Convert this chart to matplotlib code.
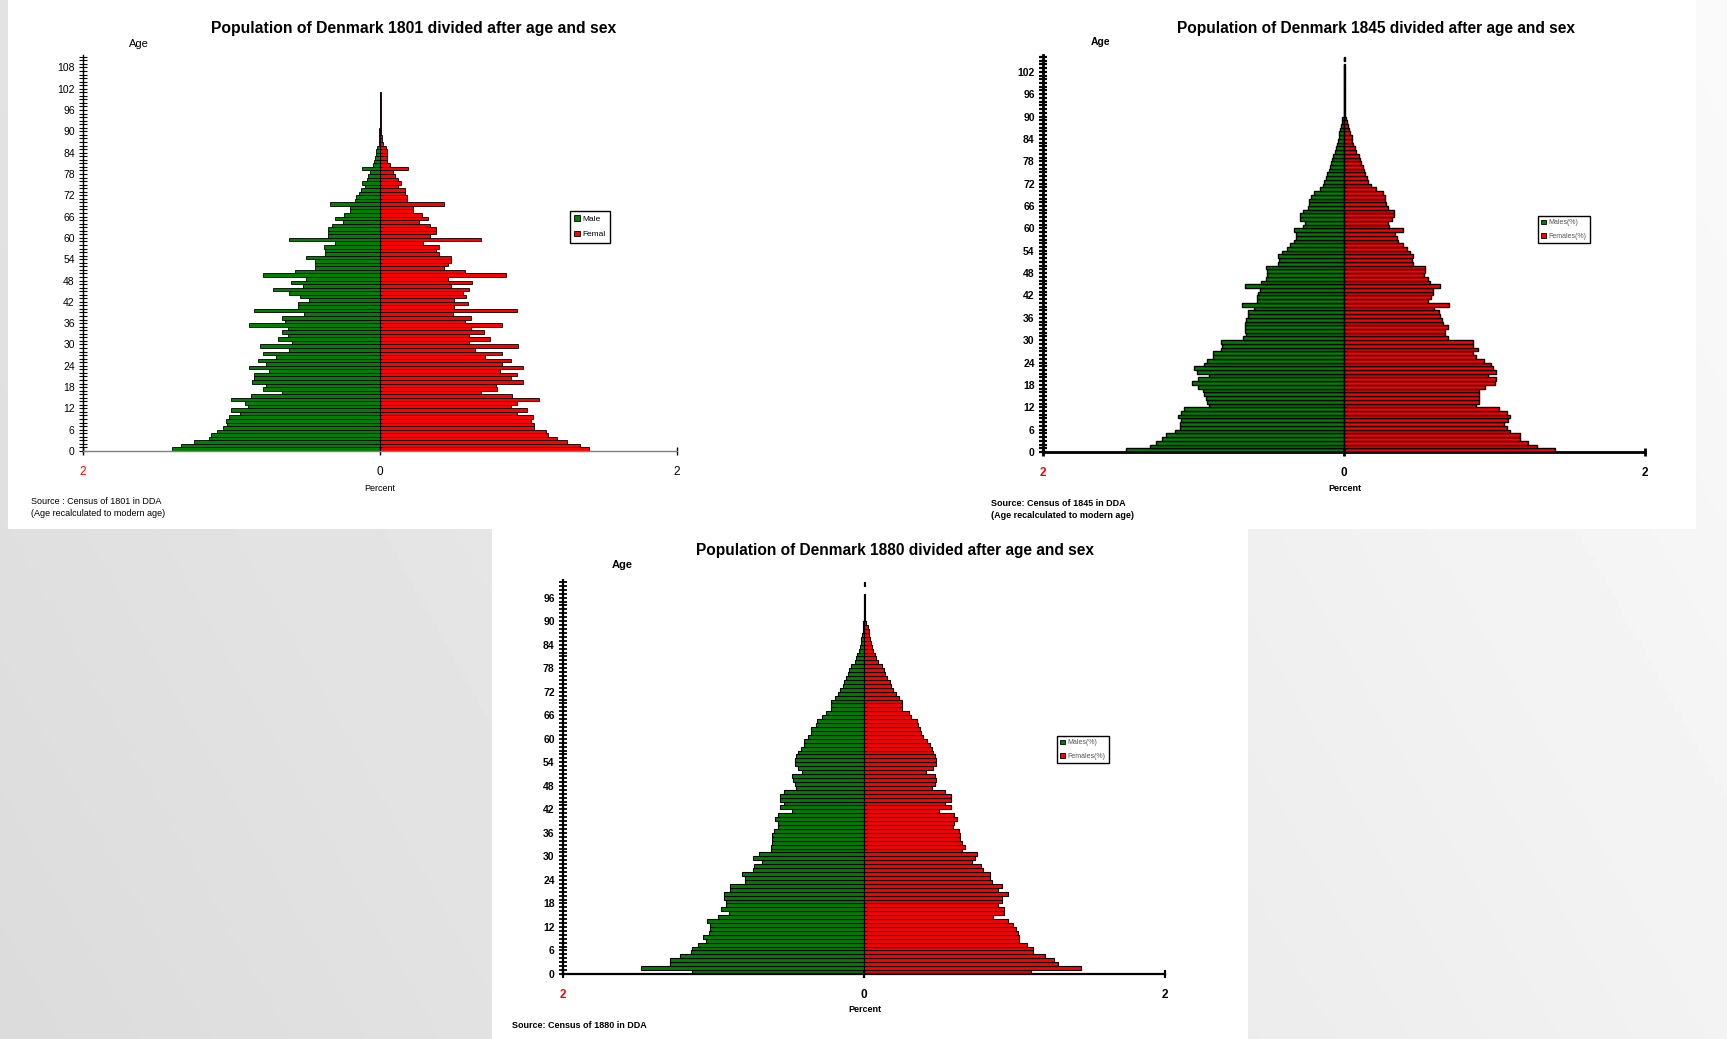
"""Population pyramids of Denmark 1801, 1845 and 1880 (slide recreation)."""

import numpy as np
import matplotlib
matplotlib.use("Agg")
import matplotlib.pyplot as plt
from matplotlib.patches import Rectangle, Patch

W, H = 1727, 1039

# ---- data: percent of population by single year of age (index = age) ----
male_1801 = [
    1.40, 1.34, 1.25, 1.15, 1.14, 1.10, 1.06, 1.03, 1.04, 1.02,
    0.94, 1.00, 0.89, 0.91, 1.00, 0.87, 0.66, 0.79, 0.77, 0.86,
    0.85, 0.85, 0.75, 0.88, 0.77, 0.82, 0.70, 0.79, 0.61, 0.81,
    0.59, 0.69, 0.62, 0.66, 0.62, 0.88, 0.64, 0.66, 0.51, 0.85,
    0.55, 0.55, 0.48, 0.54, 0.61, 0.72, 0.52, 0.60, 0.50, 0.79,
    0.57, 0.44, 0.44, 0.44, 0.50, 0.37, 0.37, 0.38, 0.30, 0.61,
    0.35, 0.35, 0.35, 0.32, 0.25, 0.30, 0.24, 0.20, 0.20, 0.34,
    0.17, 0.16, 0.14, 0.13, 0.10, 0.12, 0.09, 0.08, 0.07, 0.12,
    0.045, 0.04, 0.035, 0.03, 0.027, 0.022, 0.01, 0.006, 0.005, 0.004,
    0.004, 0.003, 0.003, 0.003, 0.003, 0.003, 0.003, 0.003, 0.003, 0.003,
    0.003,
]
female_1801 = [
    1.41, 1.35, 1.26, 1.19, 1.13, 1.12, 1.04, 1.04, 1.02, 1.03,
    0.92, 0.99, 0.88, 0.92, 1.07, 0.89, 0.68, 0.79, 0.78, 0.96,
    0.88, 0.92, 0.81, 0.96, 0.82, 0.88, 0.71, 0.82, 0.64, 0.93,
    0.60, 0.74, 0.60, 0.70, 0.61, 0.82, 0.57, 0.61, 0.49, 0.92,
    0.50, 0.59, 0.50, 0.58, 0.56, 0.60, 0.48, 0.62, 0.46, 0.85,
    0.57, 0.43, 0.46, 0.48, 0.48, 0.40, 0.38, 0.40, 0.29, 0.68,
    0.34, 0.38, 0.38, 0.34, 0.26, 0.32, 0.28, 0.22, 0.22, 0.43,
    0.18, 0.18, 0.17, 0.17, 0.12, 0.14, 0.12, 0.10, 0.09, 0.19,
    0.067, 0.05, 0.045, 0.045, 0.05, 0.04, 0.018, 0.013, 0.012, 0.01,
    0.01, 0.004, 0.004, 0.004, 0.004, 0.004, 0.004, 0.004, 0.004, 0.004,
    0.004,
]

male_1845 = [
    1.45, 1.29, 1.25, 1.21, 1.18, 1.12, 1.09, 1.09, 1.08, 1.10,
    1.08, 1.06, 0.90, 0.91, 0.92, 0.93, 0.94, 0.97, 1.01, 0.97,
    0.90, 0.98, 1.00, 0.93, 0.91, 0.87, 0.87, 0.82, 0.81, 0.82,
    0.67, 0.65, 0.66, 0.66, 0.66, 0.65, 0.64, 0.64, 0.60, 0.68,
    0.58, 0.58, 0.57, 0.56, 0.66, 0.55, 0.52, 0.51, 0.51, 0.52,
    0.44, 0.43, 0.44, 0.41, 0.38, 0.36, 0.33, 0.32, 0.32, 0.33,
    0.27, 0.26, 0.29, 0.29, 0.27, 0.24, 0.23, 0.23, 0.22, 0.20,
    0.16, 0.14, 0.13, 0.12, 0.11, 0.10, 0.095, 0.085, 0.08, 0.07,
    0.06, 0.05, 0.045, 0.04, 0.035, 0.03, 0.025, 0.02, 0.015, 0.01,
    0.003, 0.003, 0.003, 0.003, 0.003, 0.003, 0.003, 0.003, 0.003, 0.003,
    0.003, 0.003, 0.003, 0.003, 0.0, 0.003,
]
female_1845 = [
    1.40, 1.28, 1.22, 1.17, 1.17, 1.10, 1.08, 1.06, 1.09, 1.10,
    1.08, 1.03, 0.88, 0.90, 0.90, 0.90, 0.90, 0.94, 1.00, 1.01,
    0.96, 1.01, 0.99, 0.98, 0.93, 0.88, 0.86, 0.89, 0.86, 0.86,
    0.69, 0.67, 0.67, 0.69, 0.66, 0.65, 0.64, 0.63, 0.60, 0.70,
    0.56, 0.58, 0.59, 0.59, 0.64, 0.57, 0.56, 0.53, 0.54, 0.54,
    0.46, 0.45, 0.46, 0.44, 0.42, 0.39, 0.36, 0.35, 0.34, 0.39,
    0.30, 0.29, 0.32, 0.33, 0.33, 0.29, 0.28, 0.27, 0.27, 0.26,
    0.21, 0.18, 0.16, 0.155, 0.14, 0.135, 0.125, 0.11, 0.105, 0.10,
    0.08, 0.07, 0.06, 0.055, 0.05, 0.04, 0.033, 0.025, 0.018, 0.012,
    0.005, 0.005, 0.005, 0.005, 0.005, 0.005, 0.005, 0.005, 0.005, 0.005,
    0.005, 0.005, 0.005, 0.005, 0.0, 0.005,
]

male_1880 = [
    1.14, 1.48, 1.29, 1.29, 1.22, 1.15, 1.14, 1.10, 1.05, 1.07,
    1.03, 1.02, 1.02, 1.04, 0.97, 0.90, 0.95, 0.92, 0.92, 0.93,
    0.93, 0.89, 0.89, 0.79, 0.79, 0.81, 0.74, 0.73, 0.68, 0.74,
    0.70, 0.62, 0.62, 0.61, 0.61, 0.61, 0.60, 0.57, 0.57, 0.59,
    0.57, 0.48, 0.56, 0.53, 0.56, 0.56, 0.53, 0.45, 0.46, 0.47,
    0.48, 0.41, 0.44, 0.46, 0.46, 0.45, 0.44, 0.42, 0.40, 0.40,
    0.37, 0.35, 0.35, 0.32, 0.31, 0.28, 0.25, 0.22, 0.22, 0.22,
    0.19, 0.17, 0.16, 0.14, 0.13, 0.12, 0.107, 0.10, 0.085, 0.062,
    0.05, 0.044, 0.033, 0.027, 0.022, 0.017, 0.013, 0.009, 0.007, 0.004,
    0.002, 0.002, 0.002, 0.002, 0.002, 0.002, 0.002, 0.0, 0.0, 0.002,
]
female_1880 = [
    1.11, 1.44, 1.29, 1.26, 1.20, 1.12, 1.12, 1.08, 1.03, 1.03,
    1.02, 1.01, 0.99, 0.96, 0.86, 0.93, 0.93, 0.89, 0.92, 0.92,
    0.96, 0.89, 0.92, 0.85, 0.84, 0.84, 0.79, 0.78, 0.72, 0.74,
    0.75, 0.65, 0.67, 0.65, 0.64, 0.64, 0.63, 0.59, 0.60, 0.62,
    0.60, 0.50, 0.58, 0.54, 0.58, 0.58, 0.54, 0.45, 0.47, 0.48,
    0.47, 0.41, 0.46, 0.48, 0.48, 0.47, 0.46, 0.45, 0.44, 0.42,
    0.39, 0.38, 0.37, 0.36, 0.35, 0.31, 0.30, 0.25, 0.25, 0.25,
    0.23, 0.21, 0.19, 0.18, 0.17, 0.155, 0.14, 0.13, 0.12, 0.09,
    0.08, 0.07, 0.06, 0.05, 0.045, 0.04, 0.035, 0.03, 0.025, 0.015,
    0.004, 0.004, 0.004, 0.004, 0.004, 0.004, 0.004, 0.0, 0.0, 0.004,
]

GREEN = "#008000"
RED = "#ff0000"
NARROW = ["Liberation Sans Narrow", "Liberation Sans", "DejaVu Sans"]
ARIAL = ["Liberation Sans", "DejaVu Sans"]


def fx(x):
    return x / W


def fy(y):
    return 1 - y / H


def draw_pyramid(fig, left, right, base, top_px, age_top, males, females,
                 label_top, font, weight, edge_lw, spine_lw, xspine_color):
    """Draw one pyramid; geometry given in pixel coordinates of the figure."""
    ax = fig.add_axes([fx(left), fy(base), (right - left) / W, (base - top_px) / H])
    ax.patch.set_alpha(0)
    males = np.array(males)
    females = np.array(females)
    ages = np.arange(len(males))
    m_ok = males > 0
    f_ok = females > 0
    ax.barh(ages[m_ok], -males[m_ok], height=1.0, align="edge", color=GREEN,
            edgecolor="black", linewidth=edge_lw)
    ax.barh(ages[f_ok], females[f_ok], height=1.0, align="edge", color=RED,
            edgecolor="black", linewidth=edge_lw)

    ax.set_xlim(-2, 2)
    ax.set_ylim(0, age_top)
    for side in ("top", "right"):
        ax.spines[side].set_visible(False)
    ax.spines["left"].set_linewidth(spine_lw)
    ax.spines["bottom"].set_linewidth(spine_lw)
    ax.spines["bottom"].set_color(xspine_color)

    ax.set_yticks(np.arange(0, int(age_top) + 1), minor=True)
    ax.set_yticks(np.arange(0, label_top + 1, 6))
    ax.set_yticklabels([str(v) for v in range(0, label_top + 1, 6)],
                       family=font, fontweight=weight, fontsize=7.5)
    ax.tick_params(axis="y", which="both", direction="inout", length=6,
                   width=spine_lw * 0.8, pad=3)
    ax.set_xticks([-2, 0, 2])
    labels = ax.set_xticklabels(["2", "0", "2"], family=font,
                                fontweight=weight, fontsize=8.5)
    labels[0].set_color(RED)
    ax.tick_params(axis="x", direction="inout", length=6, width=spine_lw,
                   pad=8)
    return ax


fig = plt.figure(figsize=(W / 100, H / 100), dpi=100)

# slide background: soft grey gradient
bg = fig.add_axes([0, 0, 1, 1])
gx = np.linspace(0, 1, 300)
gy = np.linspace(0, 1, 200)
grad = 0.86 + 0.09 * gx[None, :] + 0.03 * gy[:, None]
bg.imshow(grad, cmap="gray", vmin=0, vmax=1, aspect="auto",
          extent=[0, 1, 0, 1], origin="lower")
bg.set_xlim(0, 1)
bg.set_ylim(0, 1)
bg.axis("off")
bg.add_patch(Rectangle((fx(8), fy(529)), (1696 - 8) / W, 529 / H,
                       facecolor="white", edgecolor="none"))
bg.add_patch(Rectangle((fx(492), 0), (1248 - 492) / W, fy(529),
                       facecolor="white", edgecolor="none"))

# ---- 1801 ----
draw_pyramid(fig, 83, 677, 451, 55, 111.5, male_1801, female_1801, 108,
             NARROW, "normal", 0.6, 1.0, "#808080")
fig.text(fx(414), fy(28), "Population of Denmark 1801 divided after age and sex",
         ha="center", va="center", family=NARROW, fontweight="bold", fontsize=11.3)
fig.text(fx(139), fy(44), "Age", ha="center", va="center", family=NARROW, fontsize=8)
fig.text(fx(380), fy(488), "Percent", ha="center", va="center", family=NARROW,
         fontsize=6.5)
fig.text(fx(31), fy(502), "Source : Census of 1801 in DDA", ha="left",
         va="center", family=NARROW, fontsize=6.5)
fig.text(fx(31), fy(514), "(Age recalculated to modern age)", ha="left",
         va="center", family=NARROW, fontsize=6.5)

# ---- 1845 ----
draw_pyramid(fig, 1043, 1645, 452, 55, 106.5, male_1845, female_1845, 102,
             ARIAL, "bold", 1.0, 2.0, "black")
fig.text(fx(1376), fy(29), "Population of Denmark 1845 divided after age and sex",
         ha="center", va="center", family=ARIAL, fontweight="bold", fontsize=11.2)
fig.text(fx(1101), fy(42), "Age", ha="center", va="center", family=ARIAL,
         fontweight="bold", fontsize=7.5)
fig.text(fx(1345), fy(488), "Percent", ha="center", va="center", family=ARIAL,
         fontweight="bold", fontsize=6.5)
fig.text(fx(991), fy(504), "Source: Census of 1845 in DDA", ha="left",
         va="center", family=ARIAL, fontweight="bold", fontsize=6.5)
fig.text(fx(991), fy(515), "(Age recalculated to modern age)", ha="left",
         va="center", family=ARIAL, fontweight="bold", fontsize=6.5)

# ---- 1880 ----
draw_pyramid(fig, 563, 1165, 974, 580, 100.5, male_1880, female_1880, 96,
             ARIAL, "bold", 0.8, 1.6, "black")
fig.text(fx(895), fy(551), "Population of Denmark 1880 divided after age and sex",
         ha="center", va="center", family=ARIAL, fontweight="bold", fontsize=11.2)
fig.text(fx(622), fy(565), "Age", ha="center", va="center", family=ARIAL,
         fontweight="bold", fontsize=8)
fig.text(fx(865), fy(1010), "Percent", ha="center", va="center", family=ARIAL,
         fontweight="bold", fontsize=6.5)
fig.text(fx(512), fy(1026), "Source: Census of 1880 in DDA", ha="left",
         va="center", family=ARIAL, fontweight="bold", fontsize=6.5)

# ---- legends ----
def add_legend(x0, y0, names, font, color, size):
    handles = [Patch(facecolor=GREEN, edgecolor="black", linewidth=0.6),
               Patch(facecolor=RED, edgecolor="black", linewidth=0.6)]
    leg = fig.legend(handles, names, loc="upper left",
                     bbox_to_anchor=(fx(x0), fy(y0)), frameon=True,
                     fancybox=False, framealpha=1, edgecolor="black",
                     handlelength=0.7, handleheight=0.7, handletextpad=0.3,
                     labelspacing=0.9, borderpad=0.5, borderaxespad=0,
                     prop={"family": font, "size": size})
    leg.get_frame().set_linewidth(1.0)
    for t in leg.get_texts():
        t.set_color(color)


add_legend(570, 211, ["Male", "Femal"], NARROW, "black", 6)
add_legend(1538, 216, ["Males(%)", "Females(%)"], ARIAL, "#555555", 5)
add_legend(1057, 736, ["Males(%)", "Females(%)"], ARIAL, "#555555", 5)

fig.savefig("out.png", dpi=100)
